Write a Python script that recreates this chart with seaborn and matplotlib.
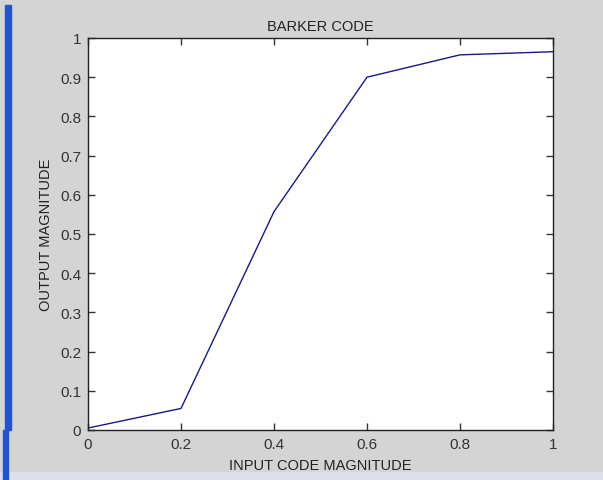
import matplotlib
matplotlib.use("Agg")
import matplotlib.pyplot as plt
import seaborn as sns
import pandas as pd
from matplotlib.patches import Rectangle

x_vals = [0.0, 0.2, 0.4, 0.6, 0.8, 1.0]
y_vals = [0.005, 0.055, 0.557, 0.90, 0.957, 0.965]
x_ticks = [0, 0.2, 0.4, 0.6, 0.8, 1]
y_ticks = [0, 0.1, 0.2, 0.3, 0.4, 0.5, 0.6, 0.7, 0.8, 0.9, 1]

sns.set_style("white")
plt.rcParams['font.family'] = ['Liberation Sans', 'DejaVu Sans']

df = pd.DataFrame({"x": x_vals, "y": y_vals})

fig = plt.figure(figsize=(6.03, 4.81), dpi=100, facecolor="#d4d4d4")
ax = fig.add_axes([88/603, 1 - 431/481, 465/603, 392/481])
ax.set_facecolor("white")
sns.lineplot(data=df, x="x", y="y", ax=ax, color="#1a1a80", linewidth=1)

ax.set_xlim(0, 1)
ax.set_ylim(0, 1)
ax.set_xticks(x_ticks)
ax.set_xticklabels([f"{t:g}" for t in x_ticks])
ax.set_yticks(y_ticks)
ax.set_yticklabels([f"{t:g}" for t in y_ticks])
ax.tick_params(direction="in", length=5, width=1, colors="#333333", labelsize=11,
               top=True, right=True, bottom=True, left=True, pad=5)
for s in ax.spines.values():
    s.set_visible(True)
    s.set_color("#222222")
    s.set_linewidth(1)

ax.set_title("BARKER CODE", fontsize=10.5, color="#222222", pad=6)
ax.set_xlabel("INPUT CODE MAGNITUDE", fontsize=10.5, color="#222222", labelpad=5)
ax.set_ylabel("OUTPUT MAGNITUDE", fontsize=10.5, color="#222222", labelpad=5)

# light band at the bottom
fig.patches.append(Rectangle((0, 0), 1, 8/481,
                             transform=fig.transFigure, color="#dde0ea", zorder=0))
# blue window edge on the left
fig.patches.append(Rectangle((5/603, 1 - 431/481), 6/603, 425/481,
                             transform=fig.transFigure, color="#2255cc", zorder=1))
fig.patches.append(Rectangle((3/603, 0), 5/603, 50/481,
                             transform=fig.transFigure, color="#2255cc", zorder=1))

fig.savefig("out.png", dpi=100, facecolor=fig.get_facecolor())
